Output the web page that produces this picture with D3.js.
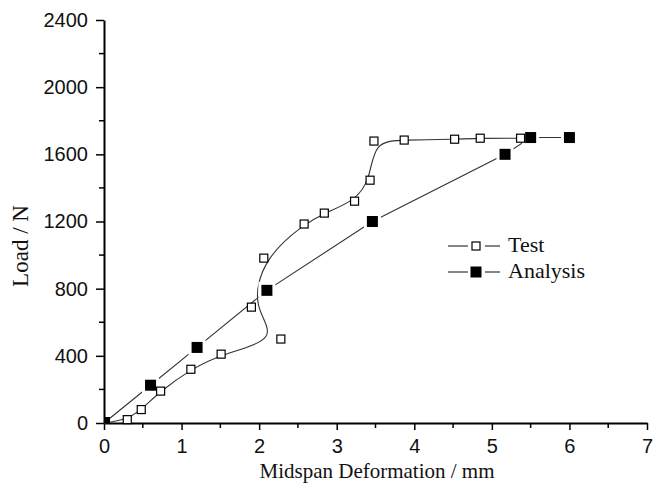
<!DOCTYPE html>
<html><head><meta charset="utf-8">
<script src="https://cdn.jsdelivr.net/npm/d3@7"></script>
<style>body{margin:0;background:#fff}</style>
</head><body>
<svg id="c" width="662" height="488"></svg>
<script>
const testX = [0, 0.3, 0.48, 0.73, 1.12, 1.51, 2.28, 1.9, 2.06, 2.58, 2.84, 3.23, 3.43, 3.48, 3.87, 4.52, 4.85, 5.37];
const testY = [0, 20, 80, 190, 320, 410, 500, 690, 982, 1185, 1250, 1321, 1446, 1679, 1685, 1690, 1696, 1696];
const anaX = [0, 0.6, 1.2, 2.1, 3.46, 5.17, 5.5, 6.0];
const anaY = [0, 225, 450, 790, 1200, 1600, 1700, 1700];
const xTicks = [0,1,2,3,4,5,6,7];
const yTicks = [0,400,800,1200,1600,2000,2400];
const seriesNames = ["Test","Analysis"];

const svg = d3.select("#c");
const x = d3.scaleLinear().domain([0,7]).range([104,647]);
const y = d3.scaleLinear().domain([0,2400]).range([423,20]);
const sans = "'Liberation Sans', Arial, sans-serif";
const serif = "'Liberation Serif', 'Times New Roman', serif";

// minor ticks
const g = svg.append("g");
d3.range(0.5,7,1).forEach(v=>{
  g.append("line").attr("x1",x(v)).attr("x2",x(v)).attr("y1",423).attr("y2",428).attr("stroke","#000").attr("stroke-width",1.5);
});
d3.range(200,2400,400).forEach(v=>{
  g.append("line").attr("x1",104).attr("x2",99).attr("y1",y(v)).attr("y2",y(v)).attr("stroke","#000").attr("stroke-width",1.5);
});

const xAxis = svg.append("g").attr("transform","translate(0,423)")
  .call(d3.axisBottom(x).tickValues(xTicks).tickSize(7).tickSizeOuter(0).tickPadding(9).tickFormat(d3.format("d")));
const yAxis = svg.append("g").attr("transform","translate(104,0)")
  .call(d3.axisLeft(y).tickValues(yTicks).tickSize(8).tickSizeOuter(0).tickPadding(8).tickFormat(d3.format("d")));
[xAxis,yAxis].forEach(a=>{
  a.select(".domain").attr("stroke","#000").attr("stroke-width",2);
  a.selectAll(".tick line").attr("stroke","#000").attr("stroke-width",1.5);
  a.selectAll(".tick text").attr("font-family",sans).attr("font-size",20).attr("fill","#111");
});

// lines
const testData = testX.map((v,i)=>[v,testY[i]]);
const anaData = anaX.map((v,i)=>[v,anaY[i]]);
svg.append("path").datum(testData)
  .attr("d", d3.line().x(d=>x(d[0])).y(d=>y(d[1])).curve(d3.curveBasis))
  .attr("fill","none").attr("stroke","#333").attr("stroke-width",1.1);
svg.append("path").datum(anaData)
  .attr("d", d3.line().x(d=>x(d[0])).y(d=>y(d[1])))
  .attr("fill","none").attr("stroke","#333").attr("stroke-width",1.1);

// analysis markers with white gap
const s2 = 11;
svg.selectAll(".ag").data(anaData.slice(1)).enter().append("rect")
  .attr("x",d=>x(d[0])-s2/2-3).attr("y",d=>y(d[1])-s2/2-3).attr("width",s2+6).attr("height",s2+6)
  .attr("fill","#fff");
svg.selectAll(".am").data(anaData.slice(1)).enter().append("rect")
  .attr("x",d=>x(d[0])-s2/2).attr("y",d=>y(d[1])-s2/2).attr("width",s2).attr("height",s2)
  .attr("fill","#000");
const s1 = 8;
svg.selectAll(".tm").data(testData.slice(1)).enter().append("rect")
  .attr("x",d=>x(d[0])-s1/2).attr("y",d=>y(d[1])-s1/2).attr("width",s1).attr("height",s1)
  .attr("fill","#fff").attr("stroke","#000").attr("stroke-width",1.2);

// origin marker (clipped by the axes corner)
svg.append("rect").attr("x",x(anaData[0][0])).attr("y",y(anaData[0][1])-6).attr("width",6).attr("height",6).attr("fill","#000");

// axis titles
svg.append("text").attr("x",377).attr("y",478).attr("text-anchor","middle")
  .attr("font-family",serif).attr("font-size",21).attr("fill","#111").text("Midspan Deformation / mm");
svg.append("text").attr("transform","translate(28,246) rotate(-90)").attr("text-anchor","middle")
  .attr("font-family",serif).attr("font-size",23).attr("fill","#111").text("Load / N");

// legend
const leg = [{name:seriesNames[0],yy:246,filled:false},{name:seriesNames[1],yy:272,filled:true}];
leg.forEach(l=>{
  svg.append("line").attr("x1",448).attr("x2",468).attr("y1",l.yy).attr("y2",l.yy).attr("stroke","#333").attr("stroke-width",1.2);
  svg.append("line").attr("x1",485).attr("x2",500).attr("y1",l.yy).attr("y2",l.yy).attr("stroke","#333").attr("stroke-width",1.2);
  const s = l.filled? s2 : s1;
  svg.append("rect").attr("x",476-s/2).attr("y",l.yy-s/2).attr("width",s).attr("height",s)
    .attr("fill",l.filled?"#000":"#fff").attr("stroke","#000").attr("stroke-width",l.filled?0:1.2);
  svg.append("text").attr("x",508).attr("y",l.yy+6).attr("font-family",serif).attr("font-size",22).attr("fill","#111").text(l.name);
});
</script>
</body></html>
